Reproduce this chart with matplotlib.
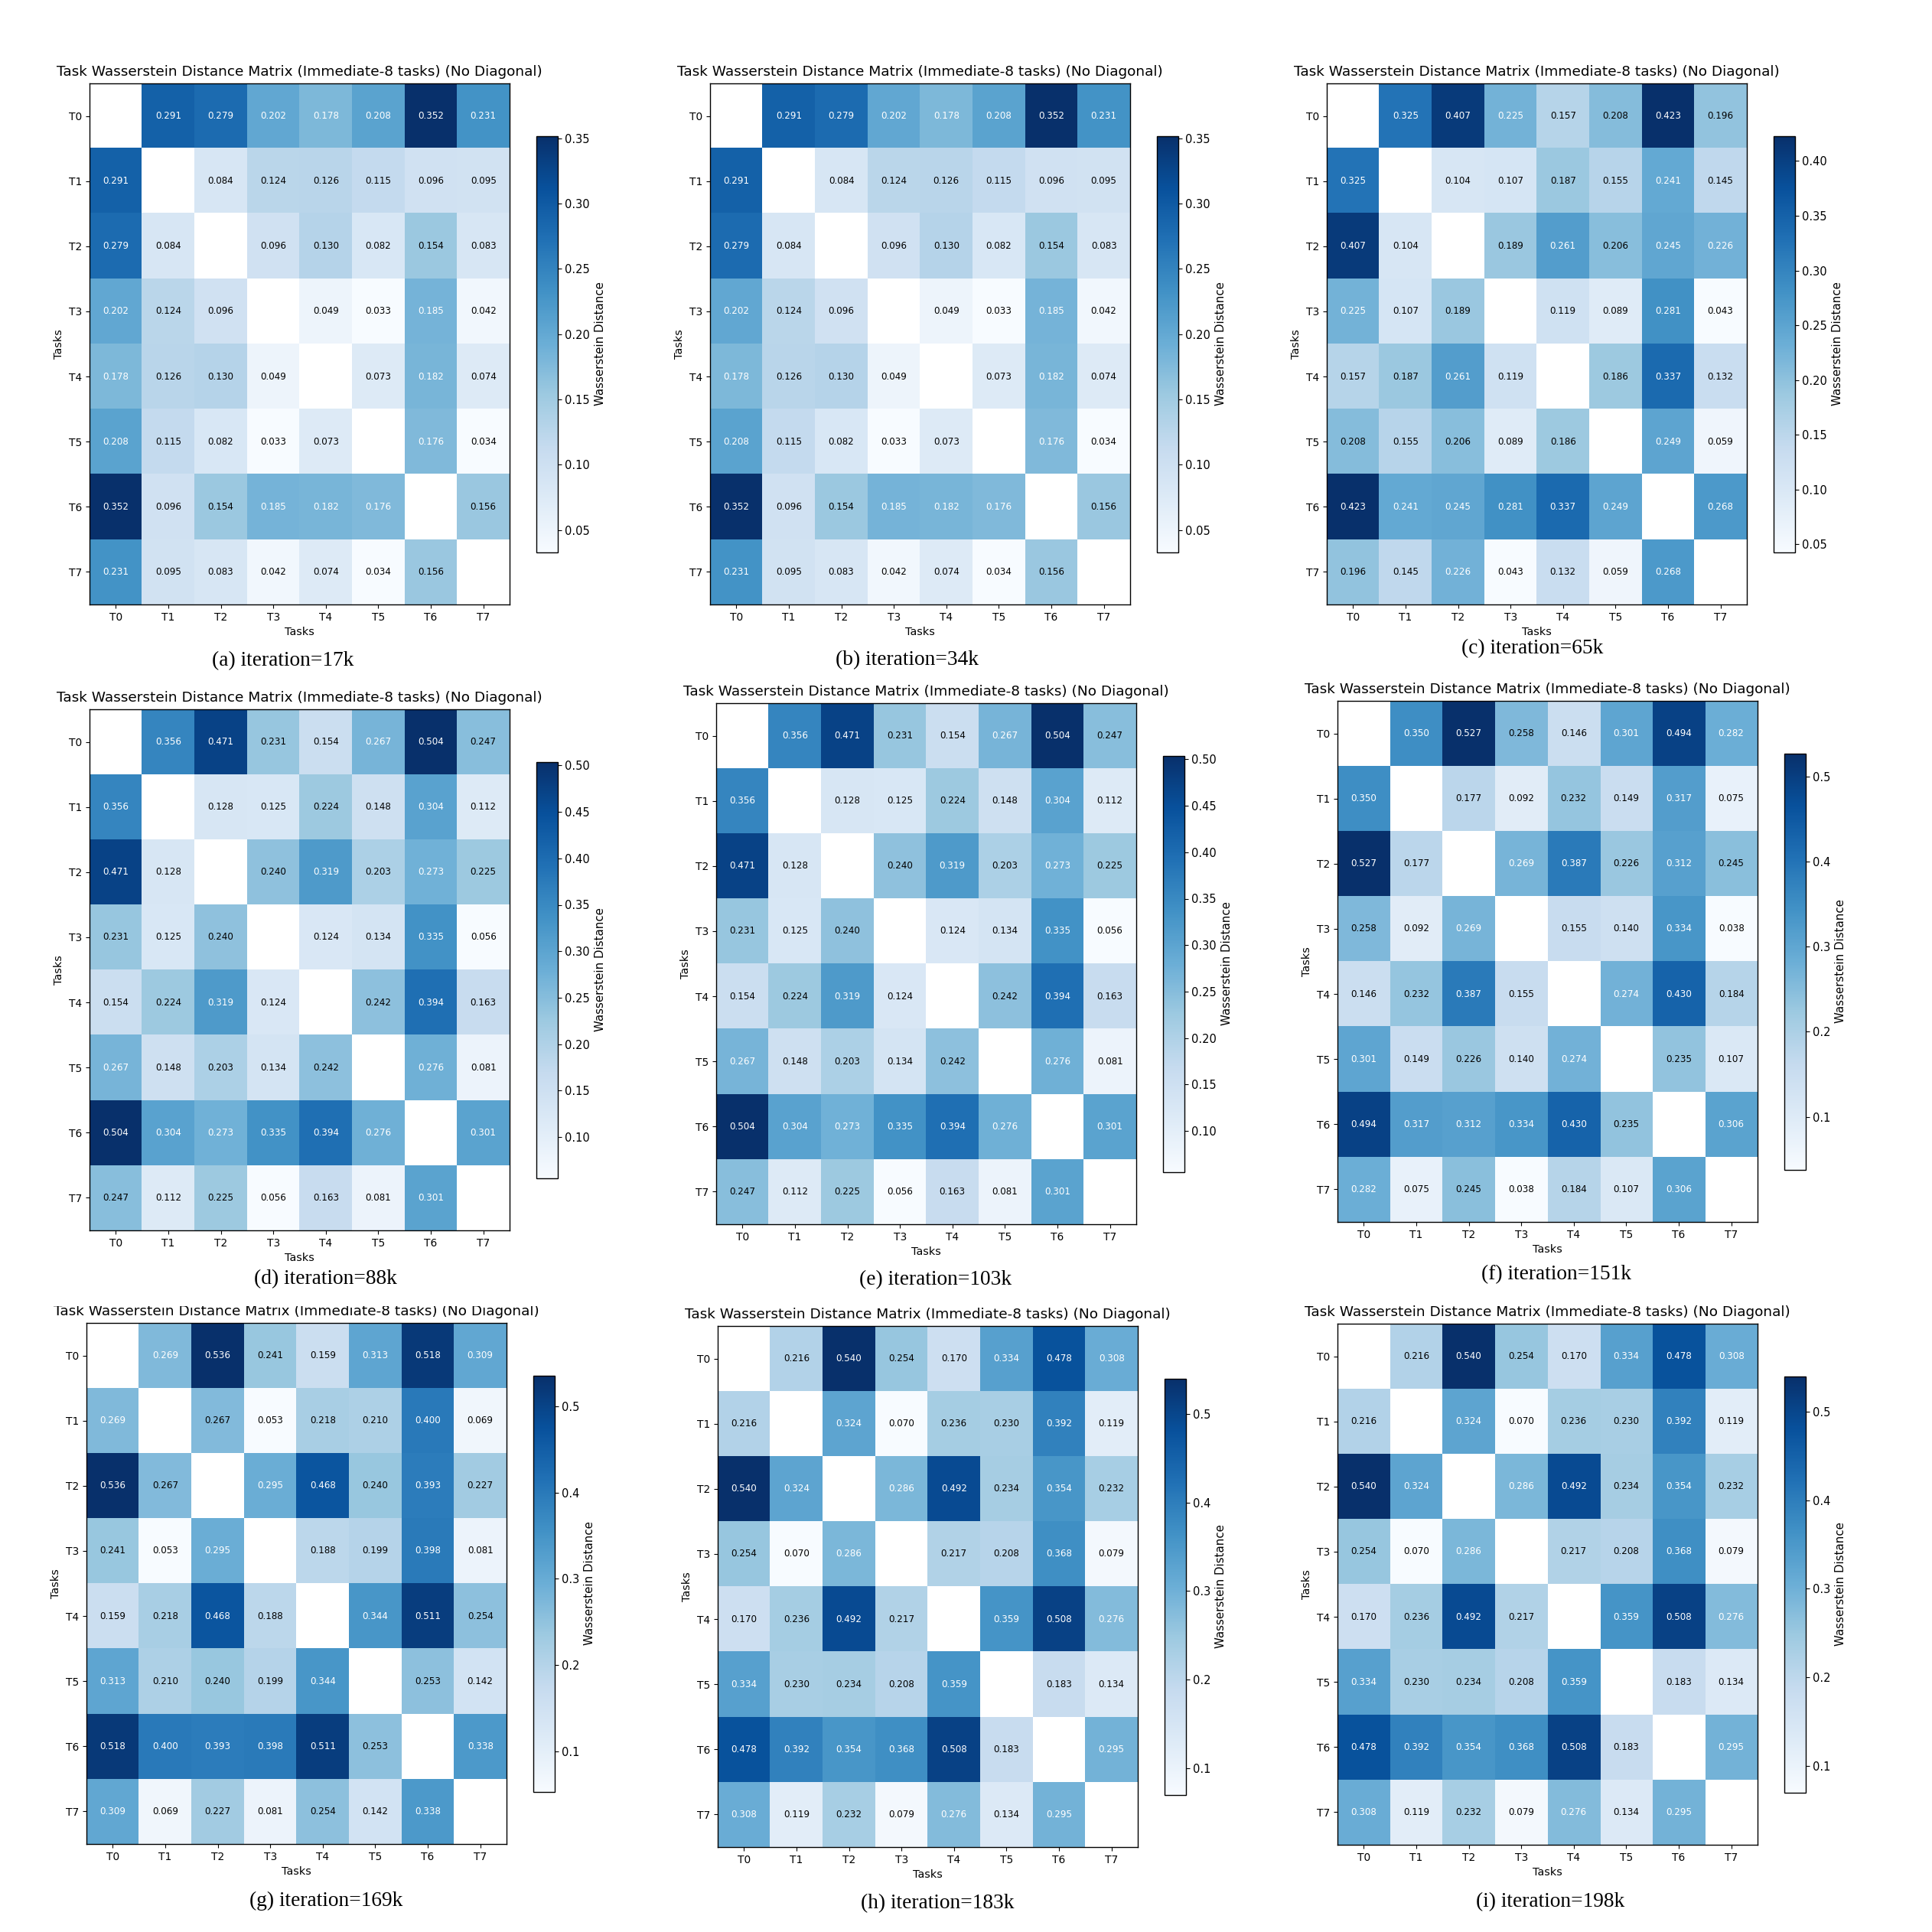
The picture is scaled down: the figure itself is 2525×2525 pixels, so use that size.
import numpy as np
import matplotlib
matplotlib.use("Agg")
import matplotlib.pyplot as plt
from matplotlib.patches import Rectangle

tasks = ["T0", "T1", "T2", "T3", "T4", "T5", "T6", "T7"]

# upper triangle of each distance matrix, row by row (Ti vs Tj, j > i)
dist_17k = [
    [0.291, 0.279, 0.202, 0.178, 0.208, 0.352, 0.231],
    [0.084, 0.124, 0.126, 0.115, 0.096, 0.095],
    [0.096, 0.130, 0.082, 0.154, 0.083],
    [0.049, 0.033, 0.185, 0.042],
    [0.073, 0.182, 0.074],
    [0.176, 0.034],
    [0.156],
]
dist_34k = [
    [0.291, 0.279, 0.202, 0.178, 0.208, 0.352, 0.231],
    [0.084, 0.124, 0.126, 0.115, 0.096, 0.095],
    [0.096, 0.130, 0.082, 0.154, 0.083],
    [0.049, 0.033, 0.185, 0.042],
    [0.073, 0.182, 0.074],
    [0.176, 0.034],
    [0.156],
]
dist_65k = [
    [0.325, 0.407, 0.225, 0.157, 0.208, 0.423, 0.196],
    [0.104, 0.107, 0.187, 0.155, 0.241, 0.145],
    [0.189, 0.261, 0.206, 0.245, 0.226],
    [0.119, 0.089, 0.281, 0.043],
    [0.186, 0.337, 0.132],
    [0.249, 0.059],
    [0.268],
]
dist_88k = [
    [0.356, 0.471, 0.231, 0.154, 0.267, 0.504, 0.247],
    [0.128, 0.125, 0.224, 0.148, 0.304, 0.112],
    [0.240, 0.319, 0.203, 0.273, 0.225],
    [0.124, 0.134, 0.335, 0.056],
    [0.242, 0.394, 0.163],
    [0.276, 0.081],
    [0.301],
]
dist_103k = [
    [0.356, 0.471, 0.231, 0.154, 0.267, 0.504, 0.247],
    [0.128, 0.125, 0.224, 0.148, 0.304, 0.112],
    [0.240, 0.319, 0.203, 0.273, 0.225],
    [0.124, 0.134, 0.335, 0.056],
    [0.242, 0.394, 0.163],
    [0.276, 0.081],
    [0.301],
]
dist_151k = [
    [0.350, 0.527, 0.258, 0.146, 0.301, 0.494, 0.282],
    [0.177, 0.092, 0.232, 0.149, 0.317, 0.075],
    [0.269, 0.387, 0.226, 0.312, 0.245],
    [0.155, 0.140, 0.334, 0.038],
    [0.274, 0.430, 0.184],
    [0.235, 0.107],
    [0.306],
]
dist_169k = [
    [0.269, 0.536, 0.241, 0.159, 0.313, 0.518, 0.309],
    [0.267, 0.053, 0.218, 0.210, 0.400, 0.069],
    [0.295, 0.468, 0.240, 0.393, 0.227],
    [0.188, 0.199, 0.398, 0.081],
    [0.344, 0.511, 0.254],
    [0.253, 0.142],
    [0.338],
]
dist_183k = [
    [0.216, 0.540, 0.254, 0.170, 0.334, 0.478, 0.308],
    [0.324, 0.070, 0.236, 0.230, 0.392, 0.119],
    [0.286, 0.492, 0.234, 0.354, 0.232],
    [0.217, 0.208, 0.368, 0.079],
    [0.359, 0.508, 0.276],
    [0.183, 0.134],
    [0.295],
]
dist_198k = [
    [0.216, 0.540, 0.254, 0.170, 0.334, 0.478, 0.308],
    [0.324, 0.070, 0.236, 0.230, 0.392, 0.119],
    [0.286, 0.492, 0.234, 0.354, 0.232],
    [0.217, 0.208, 0.368, 0.079],
    [0.359, 0.508, 0.276],
    [0.183, 0.134],
    [0.295],
]

panels = [dist_17k, dist_34k, dist_65k, dist_88k, dist_103k,
          dist_151k, dist_169k, dist_183k, dist_198k]
captions = ["(a) iteration=17k", "(b) iteration=34k", "(c) iteration=65k",
            "(d) iteration=88k", "(e) iteration=103k", "(f) iteration=151k",
            "(g) iteration=169k", "(h) iteration=183k", "(i) iteration=198k"]
title = "Task Wasserstein Distance Matrix (Immediate-8 tasks) (No Diagonal)"

# layout in pixels of the 2525px canvas (the panels are pasted images, not a grid)
W = 2525.0
HW, HH = 549.0, 681.0
heat_xy = [(117, 109), (928, 109), (1734, 109),
           (117, 927), (936, 919), (1748, 916),
           (113, 1729), (938, 1733), (1748, 1730)]
cap_xy = [(370, 864), (1185, 863), (2003, 848),
          (425, 1672), (1223, 1673), (2034, 1666),
          (426, 2484), (1225, 2488), (2026, 2486)]


def make_matrix(upper):
    n = len(upper) + 1
    m = np.full((n, n), np.nan)
    for i, row in enumerate(upper):
        for k, v in enumerate(row):
            j = i + 1 + k
            m[i, j] = v
            m[j, i] = v
    return m


fig = plt.figure(figsize=(25.25, 25.25), dpi=100)

for p in range(9):
    mat = make_matrix(panels[p])
    x0, y0 = heat_xy[p]
    ax = fig.add_axes([x0 / W, 1 - (y0 + HH) / W, HW / W, HH / W])
    vmin, vmax = np.nanmin(mat), np.nanmax(mat)
    im = ax.imshow(mat, cmap="Blues", aspect="auto", vmin=vmin, vmax=vmax,
                   interpolation="nearest")
    ax.set_xticks(range(len(tasks)))
    ax.set_yticks(range(len(tasks)))
    ax.set_xticklabels(tasks, fontsize=9.9)
    ax.set_yticklabels(tasks, fontsize=9.9)
    for s in ax.spines.values():
        s.set_linewidth(1.0)
    # annotate off-diagonal cells, white text on the darker half
    for i in range(len(tasks)):
        for j in range(len(tasks)):
            if i == j:
                continue
            v = mat[i, j]
            ax.text(j, i, f"{v:.3f}", ha="center", va="center", fontsize=8.6,
                    color="white" if v >= vmax / 2 else "black")
    ax.set_title(title, fontsize=13.3, pad=7.3)
    ax.set_xlabel("Tasks", fontsize=10.4)
    ax.set_ylabel("Tasks", fontsize=10.4)

    cax = fig.add_axes([(x0 + HW + 34.5) / W, 1 - (y0 + 68.5 + 544) / W,
                        28 / W, 544 / W])
    cb = fig.colorbar(im, cax=cax)
    cb.set_label("Wasserstein Distance", fontsize=10.8)
    cb.ax.tick_params(labelsize=10.5)
    cb.outline.set_linewidth(1.0)

    cx, cy = cap_xy[p]
    fig.text(cx / W, 1 - cy / W, captions[p], family="Liberation Serif",
             fontsize=19.7, ha="center", va="center")

# panel (g) image was cropped at the top, cutting its title
fig.add_artist(Rectangle((60 / W, 1 - 1706.5 / W), 700 / W, 16 / W,
                         transform=fig.transFigure, facecolor="white",
                         edgecolor="none", zorder=10))

fig.savefig("out.png", dpi=100, facecolor="white")
